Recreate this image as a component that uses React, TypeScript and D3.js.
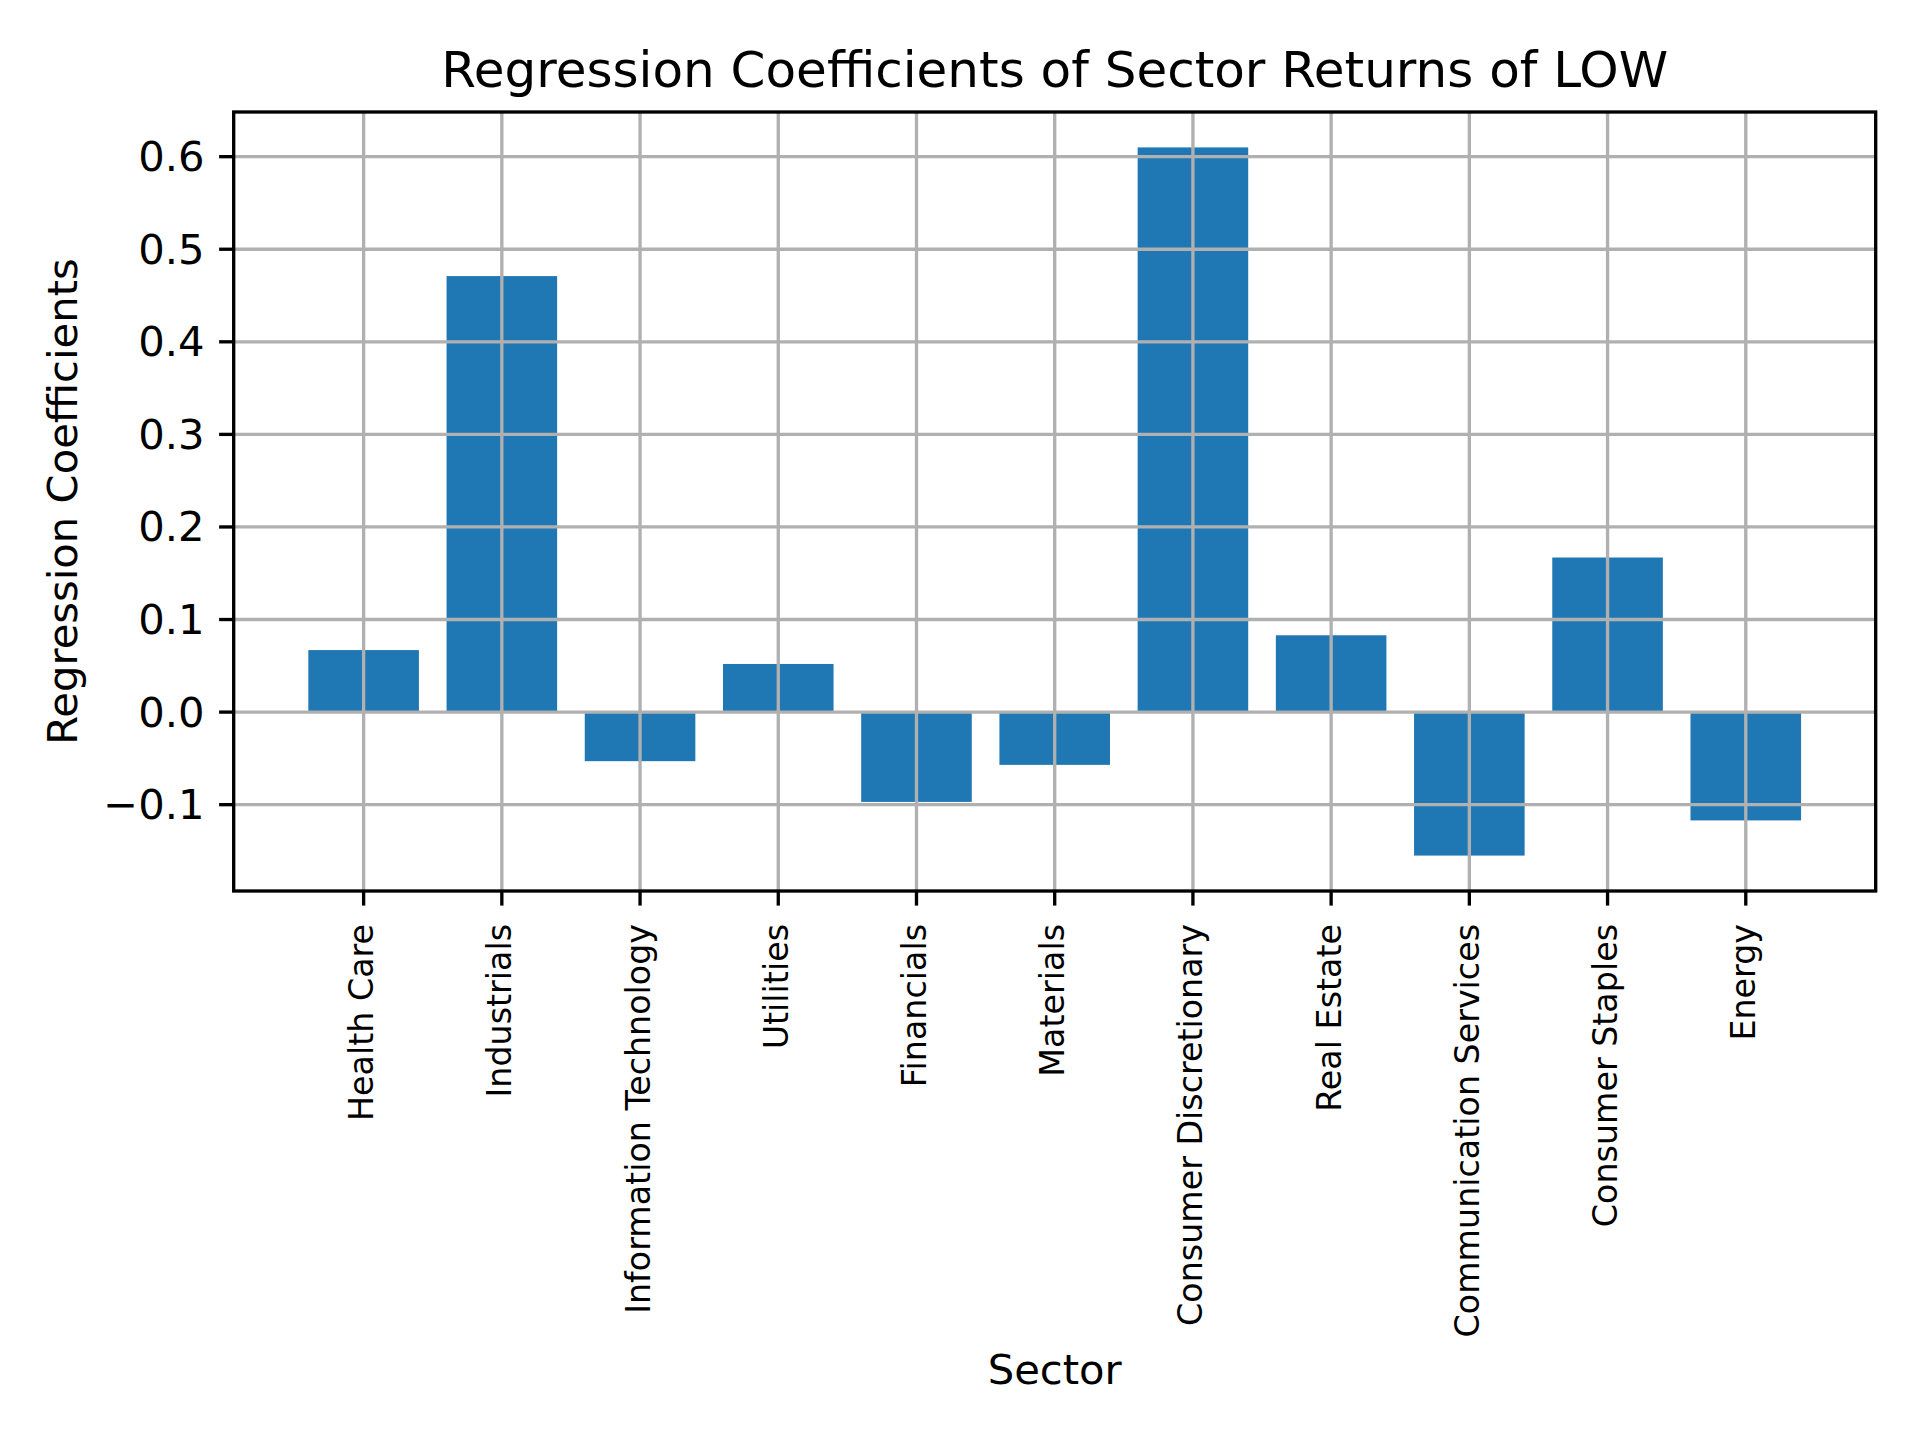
import * as d3 from "d3";

const sectors: string[] = [
  "Health Care",
  "Industrials",
  "Information Technology",
  "Utilities",
  "Financials",
  "Materials",
  "Consumer Discretionary",
  "Real Estate",
  "Communication Services",
  "Consumer Staples",
  "Energy",
];
const coefficients: number[] = [
  0.067, 0.471, -0.053, 0.052, -0.097, -0.057, 0.61, 0.083, -0.155, 0.167, -0.117,
];
const yTicks: number[] = [-0.1, 0, 0.1, 0.2, 0.3, 0.4, 0.5, 0.6];

const width = 1920;
const height = 1440;
const margin = { top: 112, right: 44.3, bottom: 549, left: 233.7 };
const lw = 3.33;
const font = "'DejaVu Sans', sans-serif";

const App = () => {
  const x0 = margin.left;
  const x1 = width - margin.right;
  const y0 = margin.top;
  const y1 = height - margin.bottom;

  const x = d3.scaleBand()
    .domain(sectors)
    .range([x0, x1])
    .paddingInner(0.2)
    .paddingOuter(0.54);

  const lo = d3.min(coefficients) as number;
  const hi = d3.max(coefficients) as number;
  const pad = (hi - lo) * 0.05;
  const y = d3.scaleLinear()
    .domain([lo - pad, hi + pad])
    .range([y1, y0]);

  const fmt = (v: number) => d3.format(".1f")(v).replace("-", "\u2212");
  const cx = (s: string) => (x(s) as number) + x.bandwidth() / 2;

  return (
    <svg width={width} height={height} style={{ position: "absolute", left: 0, top: 0, background: "#fff" }}>
      <rect x={0} y={0} width={width} height={height} fill="#fff" />
      {sectors.map((s, i) => {
        const v = coefficients[i];
        return (
          <rect
            key={s}
            x={x(s)}
            y={y(Math.max(0, v))}
            width={x.bandwidth()}
            height={Math.abs(y(v) - y(0))}
            fill="#1f77b4"
          />
        );
      })}
      <g stroke="#b0b0b0" strokeWidth={lw}>
        {sectors.map((s) => (
          <line key={s} x1={cx(s)} x2={cx(s)} y1={y0} y2={y1} />
        ))}
        {yTicks.map((t) => (
          <line key={t} x1={x0} x2={x1} y1={y(t)} y2={y(t)} />
        ))}
      </g>
      <rect x={x0} y={y0} width={x1 - x0} height={y1 - y0} fill="none" stroke="#000" strokeWidth={lw} />
      <g fontFamily={font} fill="#000">
        {yTicks.map((t) => (
          <g key={t}>
            <line x1={x0 - 14.6} x2={x0} y1={y(t)} y2={y(t)} stroke="#000" strokeWidth={lw} />
            <text x={x0 - 29.2} y={y(t)} fontSize={41.7} textAnchor="end" dominantBaseline="central">
              {fmt(t)}
            </text>
          </g>
        ))}
        {sectors.map((s) => (
          <g key={s}>
            <line x1={cx(s)} x2={cx(s)} y1={y1} y2={y1 + 14.6} stroke="#000" strokeWidth={lw} />
            <text
              transform={`translate(${cx(s) - 2},${y1 + 33}) rotate(-90)`}
              fontSize={33.3}
              textAnchor="end"
              dominantBaseline="central"
            >
              {s}
            </text>
          </g>
        ))}
        <text x={(x0 + x1) / 2} y={87} fontSize={50} textAnchor="middle">
          Regression Coefficients of Sector Returns of LOW
        </text>
        <text x={(x0 + x1) / 2} y={1384} fontSize={41.7} textAnchor="middle">
          Sector
        </text>
        <text
          transform={`translate(77,${(y0 + y1) / 2}) rotate(-90)`}
          fontSize={41.7}
          textAnchor="middle"
        >
          Regression Coefficients
        </text>
      </g>
    </svg>
  );
};

export default App;
